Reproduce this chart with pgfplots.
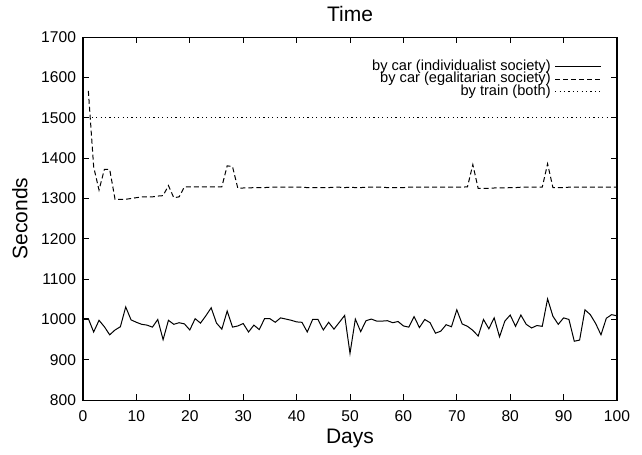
\documentclass[border=0pt]{standalone}
\usepackage{fontspec}
\setmainfont{Liberation Sans}
\usepackage{pgfplots}
\pgfplotsset{compat=1.18}
\begin{document}
\begin{tikzpicture}
\begin{axis}[
    scale only axis,
    width=267pt,
    height=181.5pt,
    xmin=0, xmax=100,
    ymin=800, ymax=1700,
    xtick={0,10,...,100},
    ytick={800,900,...,1700},
    title={Time},
    xlabel={Days},
    ylabel={Seconds},
    /pgf/number format/assume math mode=true,
    /pgf/number format/1000 sep={},
    tick label style={font=\fontsize{7.8}{8}\selectfont},
    xticklabel style={yshift=-1.5pt},
    label style={font=\fontsize{10.5}{12}\selectfont},
    xlabel style={yshift=3pt},
    title style={font=\fontsize{10.5}{12}\selectfont, yshift=-2pt},
    major tick length=3pt,
    tick style={black, line width=0.5pt},
    axis line style={line width=0.6pt},
    legend plot pos=right,
    legend image code/.code={\draw[#1] (0pt,0pt) -- (23pt,0pt);},
    legend style={draw=none, fill=none, at={(0.972,0.95)}, anchor=north east,
        font=\fontsize{7.3}{7}\selectfont, row sep=-4.5pt, inner sep=0pt,
        cells={anchor=east}},
]
\addplot[black, line width=0.5pt] coordinates {
(0,1002) (1,1002) (2,969) (3,998) (4,982) (5,962) (6,974) (7,982) (8,1031) (9,999)
(10,993) (11,988) (12,986) (13,981) (14,1000) (15,950) (16,998) (17,988) (18,992) (19,989)
(20,974) (21,1002) (22,991) (23,1009) (24,1029) (25,991) (26,976) (27,1021) (28,981) (29,984)
(30,990) (31,969) (32,986) (33,975) (34,1002) (35,1002) (36,993) (37,1004) (38,1001) (39,998)
(40,994) (41,993) (42,969) (43,1000) (44,1000) (45,974) (46,993) (47,976) (48,993) (49,1010)
(50,916) (51,1001) (52,970) (53,997) (54,1001) (55,996) (56,996) (57,997) (58,992) (59,995)
(60,984) (61,981) (62,1007) (63,980) (64,1000) (65,992) (66,966) (67,971) (68,987) (69,982)
(70,1024) (71,989) (72,983) (73,973) (74,959) (75,1000) (76,977) (77,1004) (78,957) (79,996)
(80,1011) (81,983) (82,1011) (83,988) (84,979) (85,985) (86,983) (87,1051) (88,1008) (89,988)
(90,1004) (91,1000) (92,946) (93,949) (94,1024) (95,1012) (96,990) (97,962) (98,1003) (99,1012)
(100,1009)};
\addplot[black, line width=0.5pt, dash pattern=on 2.5pt off 1.5pt] coordinates {
(1,1567) (2,1378) (3,1321) (4,1372) (5,1372) (6,1298) (7,1298) (8,1298) (9,1300)
(10,1302) (11,1304) (12,1304) (13,1304) (14,1306) (15,1307) (16,1332) (17,1302) (18,1304) (19,1329)
(20,1329) (21,1329) (22,1329) (23,1329) (24,1329) (25,1329) (26,1329) (27,1381) (28,1379) (29,1325)
(30,1326) (31,1326) (32,1327) (33,1327) (34,1327) (35,1328) (36,1328) (37,1328) (38,1328) (39,1328)
(40,1328) (41,1328) (42,1327) (43,1327) (44,1327) (45,1327) (46,1327) (47,1328) (48,1328) (49,1327)
(50,1328) (51,1327) (52,1327) (53,1328) (54,1328) (55,1328) (56,1328) (57,1327) (58,1327) (59,1327)
(60,1327) (61,1328) (62,1328) (63,1328) (64,1328) (65,1328) (66,1328) (67,1328) (68,1328) (69,1328)
(70,1328) (71,1328) (72,1329) (73,1384) (74,1325) (75,1325) (76,1325) (77,1326) (78,1326) (79,1326)
(80,1327) (81,1327) (82,1328) (83,1328) (84,1328) (85,1328) (86,1328) (87,1386) (88,1327) (89,1327)
(90,1327) (91,1328) (92,1328) (93,1328) (94,1328) (95,1328) (96,1328) (97,1328) (98,1328) (99,1328)
(100,1328)};
\addplot[black, line width=0.5pt, dash pattern=on 0.6pt off 1.6pt] coordinates {
(0,1500) (100,1500)};
\legend{by car (individualist society), by car (egalitarian society), by train (both)}
\end{axis}
\path (current axis.south west) ++(-41.5pt,-25.5pt);
\path (current axis.north east) ++(12.5pt,18.5pt);
\end{tikzpicture}
\end{document}
